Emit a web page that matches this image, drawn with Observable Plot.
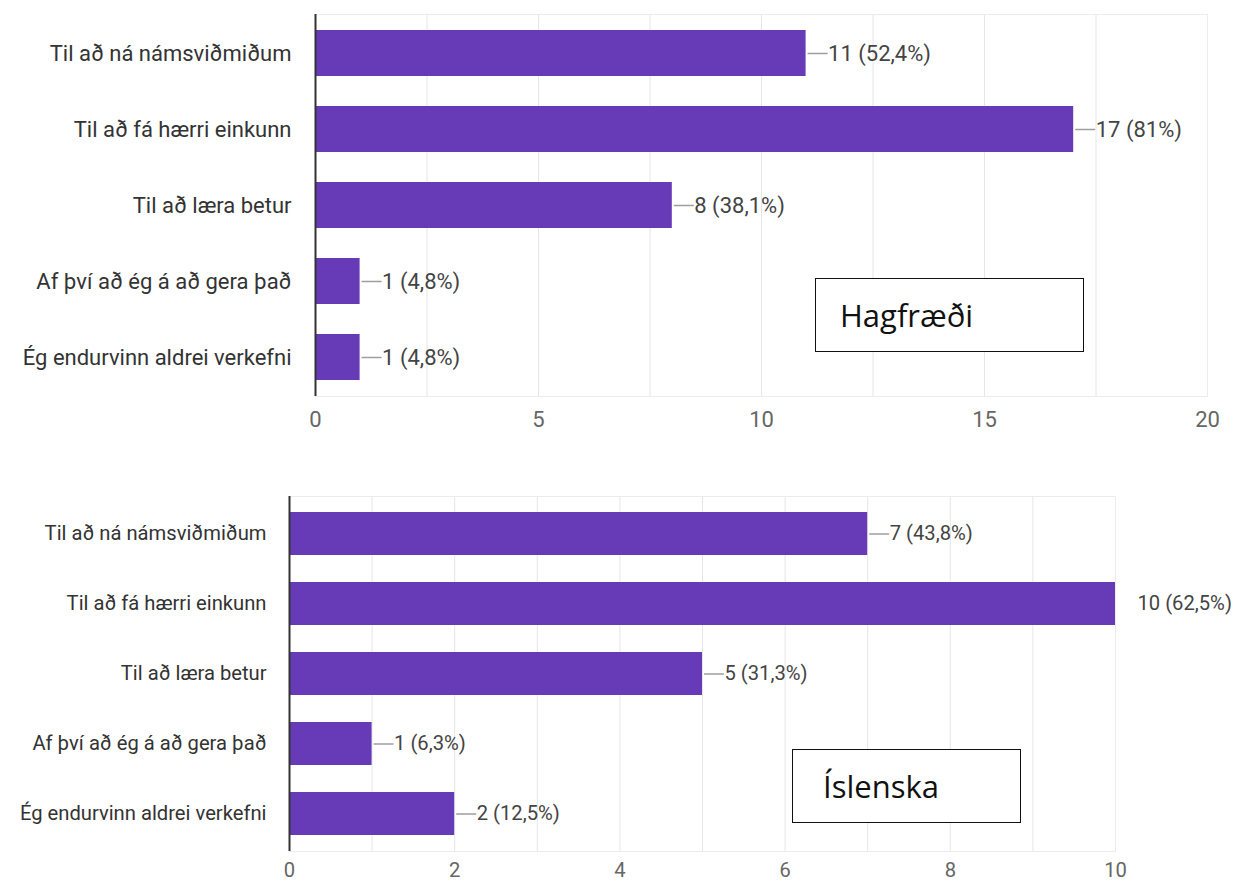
<!DOCTYPE html>
<html>
<head>
<meta charset="utf-8">
<script src="https://cdn.jsdelivr.net/npm/d3@7"></script>
<script src="https://cdn.jsdelivr.net/npm/@observablehq/plot@0.6"></script>
<style>
  html, body { margin: 0; padding: 0; background: #fff; }
  #wrap { position: relative; width: 1240px; height: 884px; overflow: hidden; }
  #wrap svg { display: block; }
  .tag { position: absolute; box-sizing: border-box; border: 1.5px solid #111; background: #fff;
         font-family: "Open Sans", sans-serif; color: #111; display: flex; align-items: center; }
</style>
</head>
<body>
<div id="wrap">
  <div id="top"></div>
  <div id="bottom"></div>
  <div class="tag" id="tagTop" style="left:815px; top:278px; width:269px; height:74px; font-size:31px; padding-left:24px;">Hagfræði</div>
  <div class="tag" id="tagBottom" style="left:792px; top:749px; width:229px; height:74px; font-size:31px; padding-left:30px;">Íslenska</div>
</div>
<script>
const categories = [
  "Til að ná námsviðmiðum",
  "Til að fá hærri einkunn",
  "Til að læra betur",
  "Af því að ég á að gera það",
  "Ég endurvinn aldrei verkefni"
];
const hagValues = [11, 17, 8, 1, 1];
const hagLabels = ["11 (52,4%)", "17 (81%)", "8 (38,1%)", "1 (4,8%)", "1 (4,8%)"];
const hagTicks = [0, 5, 10, 15, 20];
const hagGrid = [0, 2.5, 5, 7.5, 10, 12.5, 15, 17.5, 20];

const islValues = [7, 10, 5, 1, 2];
const islLabels = ["7 (43,8%)", "10 (62,5%)", "5 (31,3%)", "1 (6,3%)", "2 (12,5%)"];
const islTicks = [0, 2, 4, 6, 8, 10];
const islGrid = [0, 1, 2, 3, 4, 5, 6, 7, 8, 9, 10];

const PURPLE = "#673ab7";
const leaderShape = {
  draw(context, l) { context.moveTo(0, 0); context.lineTo(0, -l); }
};

function chart({values, labels, ticks, grid, domain, height, margins, fontSize, xPad, yPad, pIn, pOut}) {
  const data = categories.map((c, i) => ({cat: c, value: values[i], label: labels[i]}));
  return Plot.plot({
    width: 1240,
    height,
    marginTop: margins[0], marginRight: margins[1], marginBottom: margins[2], marginLeft: margins[3],
    style: {fontFamily: "Roboto, sans-serif", fontSize: fontSize + "px", background: "#fff"},
    x: {domain, ticks, label: null},
    y: {domain: categories, paddingInner: pIn, paddingOuter: pOut, label: null},
    marks: [
      Plot.ruleX(grid, {stroke: "#e6e6e6", strokeWidth: 1}),
      Plot.frame({stroke: "#ececec"}),
      Plot.barX(data, {x: "value", y: "cat", fill: PURPLE}),
      Plot.vector(data.filter(d => d.value < domain[1]), {x: "value", y: "cat", length: 19, rotate: 90, anchor: "start", dx: 2,
        shape: leaderShape, stroke: "#9e9e9e", strokeWidth: 1.3}),
      Plot.text(data, {x: "value", y: "cat", text: "label", dx: 22, textAnchor: "start",
        fill: "#444", fontSize}),
      Plot.ruleX([0], {stroke: "#333", strokeWidth: 2}),
      Plot.axisX({ticks, tickSize: 0, tickPadding: xPad, fontSize, color: "#666", label: null, tickFormat: d3.format("")}),
      Plot.axisY({tickSize: 0, tickPadding: yPad, fontSize, color: "#333", label: null})
    ]
  });
}

document.getElementById("top").append(chart({
  values: hagValues, labels: hagLabels, ticks: hagTicks, grid: hagGrid, domain: [0, 20],
  height: 440, margins: [14, 33, 44, 315], fontSize: 22, xPad: 15, yPad: 24, pIn: 0.39, pOut: 0.18
}));
document.getElementById("bottom").append(chart({
  values: islValues, labels: islLabels, ticks: islTicks, grid: islGrid, domain: [0, 10],
  height: 444, margins: [56, 125, 33, 289], fontSize: 20.2, xPad: 11, yPad: 23, pIn: 0.39, pOut: 0.21
}));
</script>
</body>
</html>
